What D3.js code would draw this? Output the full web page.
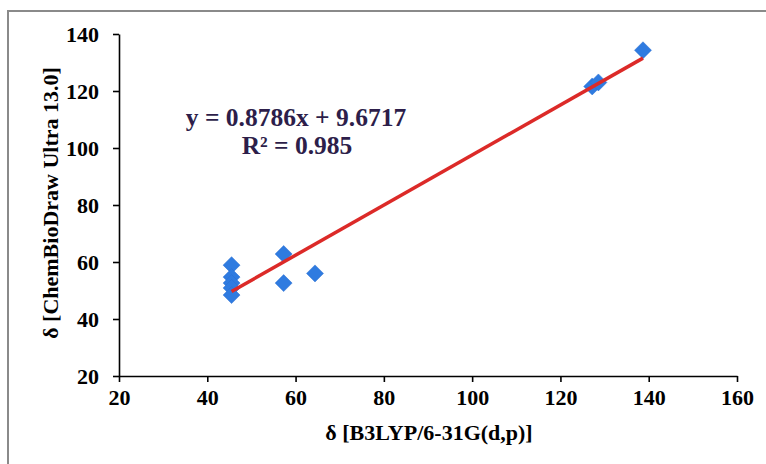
<!DOCTYPE html>
<html><head><meta charset="utf-8">
<script src="https://cdn.jsdelivr.net/npm/d3@7"></script>
<style>body{margin:0;background:#fff}svg{display:block}text{font-family:"Liberation Serif","Times New Roman",serif;font-weight:bold}</style>
</head><body>
<svg id="c" width="766" height="464"></svg>
<script>
const xValues = [45.5, 45.5, 45.5, 45.5, 45.5, 57.3, 57.3, 64.4, 127.2, 128.6, 138.7];
const yValues = [58.9, 54.7, 52.6, 50.9, 48.4, 62.8, 52.6, 56.0, 121.6, 123.0, 134.3];
const xTicks = [20, 40, 60, 80, 100, 120, 140, 160];
const yTicks = [20, 40, 60, 80, 100, 120, 140];
const slope = 0.8786, intercept = 9.6717;
const eqText = "y = 0.8786x + 9.6717";
const r2Text = "R² = 0.985";
const xTitle = "δ [B3LYP/6-31G(d,p)]";
const yTitle = "δ [ChemBioDraw Ultra 13.0]";

const svg = d3.select("#c");
// outer border
svg.append("path").attr("d","M8,470 L8,11 L772,11").attr("fill","none").attr("stroke","#8a8a8a").attr("stroke-width",2);

const x = d3.scaleLinear().domain([20,160]).range([119,737]);
const y = d3.scaleLinear().domain([20,140]).range([376,34]);

const xa = svg.append("g").attr("transform","translate(0,376)")
  .call(d3.axisBottom(x).tickValues(xTicks).tickSize(6).tickSizeOuter(0));
const ya = svg.append("g").attr("transform","translate(119,0)")
  .call(d3.axisLeft(y).tickValues(yTicks).tickSize(6).tickSizeOuter(0));
[xa,ya].forEach(a=>{
  a.attr("font-size",null).attr("font-family",null);
  a.selectAll("path,line").attr("stroke","#000").attr("stroke-width",1.6);
  a.selectAll("text").style("font-size","22px").attr("fill","#000");
});
xa.selectAll("text").attr("y",29).attr("dy",null);
ya.selectAll("text").attr("x",-20).attr("dy","0.35em");

// points
const pts = xValues.map((v,i)=>[v,yValues[i]]);
svg.append("g").selectAll("path").data(pts).join("path")
  .attr("transform",d=>`translate(${x(d[0])},${y(d[1])})`)
  .attr("d","M0,-8.5 L8.5,0 L0,8.5 L-8.5,0 Z")
  .attr("fill","#2f7be0").attr("stroke","#2a6fd0").attr("stroke-width",0.5);

// trendline
const x0 = d3.min(xValues), x1 = d3.max(xValues);
svg.append("line")
  .attr("x1",x(x0)).attr("y1",y(slope*x0+intercept))
  .attr("x2",x(x1)).attr("y2",y(slope*x1+intercept))
  .attr("stroke","#dc2a28").attr("stroke-width",3.5);

// equation
svg.append("text").attr("x",296).attr("y",126).attr("text-anchor","middle")
  .style("font-size","25.5px").attr("fill","#2d1e4a").text(eqText);
svg.append("text").attr("x",297).attr("y",154).attr("text-anchor","middle")
  .style("font-size","25.5px").attr("fill","#2d1e4a").text(r2Text);

// axis titles
svg.append("text").attr("x",429).attr("y",440).attr("text-anchor","middle")
  .style("font-size","22px").attr("fill","#000").text(xTitle);
svg.append("text").attr("transform","translate(58,203) rotate(-90)").attr("text-anchor","middle")
  .style("font-size","22px").attr("fill","#000").text(yTitle);
</script>
</body></html>
